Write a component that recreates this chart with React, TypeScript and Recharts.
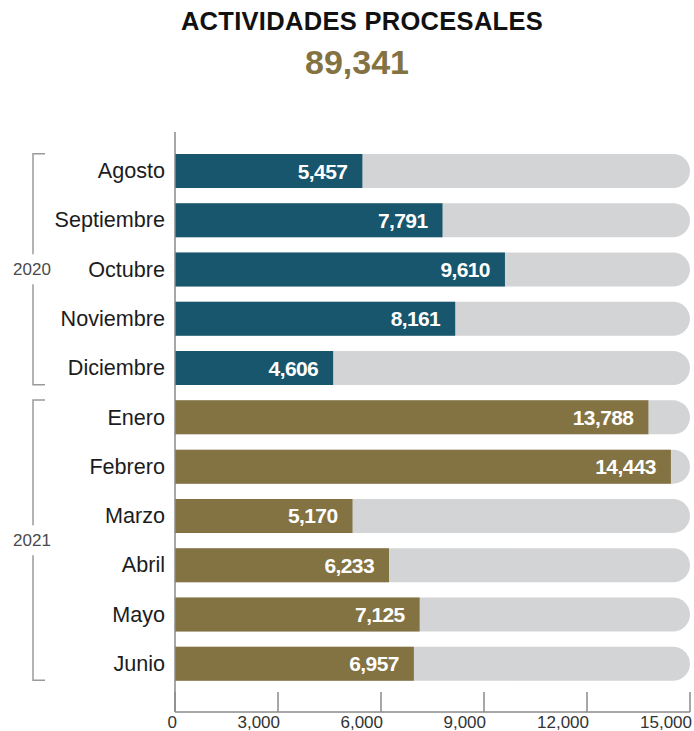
import React from "react";
import {
  BarChart,
  Bar,
  XAxis,
  YAxis,
  Cell,
  LabelList,
} from "recharts";

const months = [
  "Agosto",
  "Septiembre",
  "Octubre",
  "Noviembre",
  "Diciembre",
  "Enero",
  "Febrero",
  "Marzo",
  "Abril",
  "Mayo",
  "Junio",
];
const years = ["2020", "2020", "2020", "2020", "2020", "2021", "2021", "2021", "2021", "2021", "2021"];
const values = [5457, 7791, 9610, 8161, 4606, 13788, 14443, 5170, 6233, 7125, 6957];
const xTicks = [0, 3000, 6000, 9000, 12000, 15000];
const TITLE = "ACTIVIDADES PROCESALES";
const TOTAL = "89,341";

const COLORS: Record<string, string> = {
  "2020": "#17566d",
  "2021": "#837242",
};
const TRACK = "#d3d4d6";
const AXIS = "#8a8a8a";
const FONT = "'Liberation Sans', Arial, sans-serif";

const WIDTH = 694;
const HEIGHT = 731;
const PLOT_TOP = 132;
const PLOT_BOTTOM = 712;
const PAD_TOP = 14;
const PAD_BOTTOM = 24;
const BAR = 34;
const BAND = (PLOT_BOTTOM - PLOT_TOP - PAD_TOP - PAD_BOTTOM) / months.length;
const BRACKET_X = 33;

const data = months.map((m, i) => ({ month: m, year: years[i], value: values[i] }));

const fmt = (v: number) => v.toLocaleString("en-US");

function MonthTick(props: any) {
  const { x, y, payload, index } = props;
  const i = typeof index === "number" ? index : months.indexOf(payload.value);
  const year = years[i];
  let bracket: React.ReactNode = null;
  if (i === 0 || years[i - 1] !== year) {
    const n = years.filter((yr) => yr === year).length;
    const top = y - BAR / 2;
    const bottom = y + (n - 1) * BAND + BAR / 2;
    const mid = (top + bottom) / 2;
    const gap = 15;
    bracket = (
      <g>
        <path
          d={`M${BRACKET_X + 12},${top} H${BRACKET_X} V${mid - gap} M${BRACKET_X},${mid + gap} V${bottom} H${BRACKET_X + 12}`}
          fill="none"
          stroke="#9a9a9a"
          strokeWidth={1.5}
        />
        <text
          x={BRACKET_X - 1}
          y={mid}
          textAnchor="middle"
          dominantBaseline="central"
          fontSize={17}
          fill="#4a4a4a"
          fontFamily={FONT}
        >
          {year}
        </text>
      </g>
    );
  }
  return (
    <g>
      {bracket}
      <text
        x={x}
        y={y}
        textAnchor="end"
        dominantBaseline="central"
        fontSize={21.6}
        fill="#1c1c1c"
        fontFamily={FONT}
      >
        {payload.value}
      </text>
    </g>
  );
}

function ValueTick(props: any) {
  const { x, y, payload } = props;
  return (
    <g>
      <line x1={x} x2={x} y1={y - 20} y2={y} stroke={AXIS} strokeWidth={1.5} />
      <text
        x={x + 2}
        y={y + 16}
        textAnchor="end"
        fontSize={17}
        fill="#333"
        fontFamily={FONT}
      >
        {fmt(payload.value)}
      </text>
    </g>
  );
}

function ValueLabel(props: any) {
  const { x, y, width, height, value } = props;
  return (
    <text
      x={x + width - 15}
      y={y + height / 2}
      textAnchor="end"
      dominantBaseline="central"
      fontSize={21}
      fontWeight="bold"
      letterSpacing={-0.6}
      fill="#ffffff"
      fontFamily={FONT}
    >
      {fmt(Number(value))}
    </text>
  );
}

export default function App() {
  return (
    <div
      style={{
        position: "absolute",
        left: 0,
        top: 0,
        width: WIDTH,
        height: HEIGHT,
        background: "#fff",
      }}
    >
      <svg
        width={WIDTH}
        height={100}
        style={{ position: "absolute", left: 0, top: 0 }}
      >
        <text
          x={362}
          y={30}
          textAnchor="middle"
          fontSize={25.5}
          fontWeight="bold"
          letterSpacing={0.3}
          fill="#111"
          fontFamily={FONT}
        >
          {TITLE}
        </text>
        <text
          x={357}
          y={74}
          textAnchor="middle"
          fontSize={34}
          fontWeight="bold"
          fill={COLORS["2021"]}
          fontFamily={FONT}
        >
          {TOTAL}
        </text>
      </svg>
      <div style={{ position: "absolute", left: 0, top: 0 }}>
        <BarChart
          width={WIDTH}
          height={HEIGHT}
          data={data}
          layout="vertical"
          margin={{ top: PLOT_TOP, right: 4, bottom: 0, left: 0 }}
        >
          <XAxis
            type="number"
            domain={[0, 15000]}
            ticks={xTicks}
            height={HEIGHT - PLOT_BOTTOM}
            tickLine={false}
            tickSize={0}
            tickMargin={0}
            axisLine={{ stroke: AXIS, strokeWidth: 1.5 }}
            tick={<ValueTick />}
            interval={0}
          />
          <YAxis
            type="category"
            dataKey="month"
            width={175}
            padding={{ top: PAD_TOP, bottom: PAD_BOTTOM }}
            tickLine={false}
            tickSize={0}
            tickMargin={10}
            axisLine={{ stroke: AXIS, strokeWidth: 1.5 }}
            tick={<MonthTick />}
            interval={0}
          />
          <Bar
            dataKey="value"
            barSize={BAR}
            isAnimationActive={false}
            background={{ fill: TRACK, radius: [0, 17, 17, 0] } as any}
          >
            {data.map((d) => (
              <Cell key={d.month} fill={COLORS[d.year]} />
            ))}
            <LabelList dataKey="value" content={<ValueLabel />} />
          </Bar>
        </BarChart>
      </div>
    </div>
  );
}
